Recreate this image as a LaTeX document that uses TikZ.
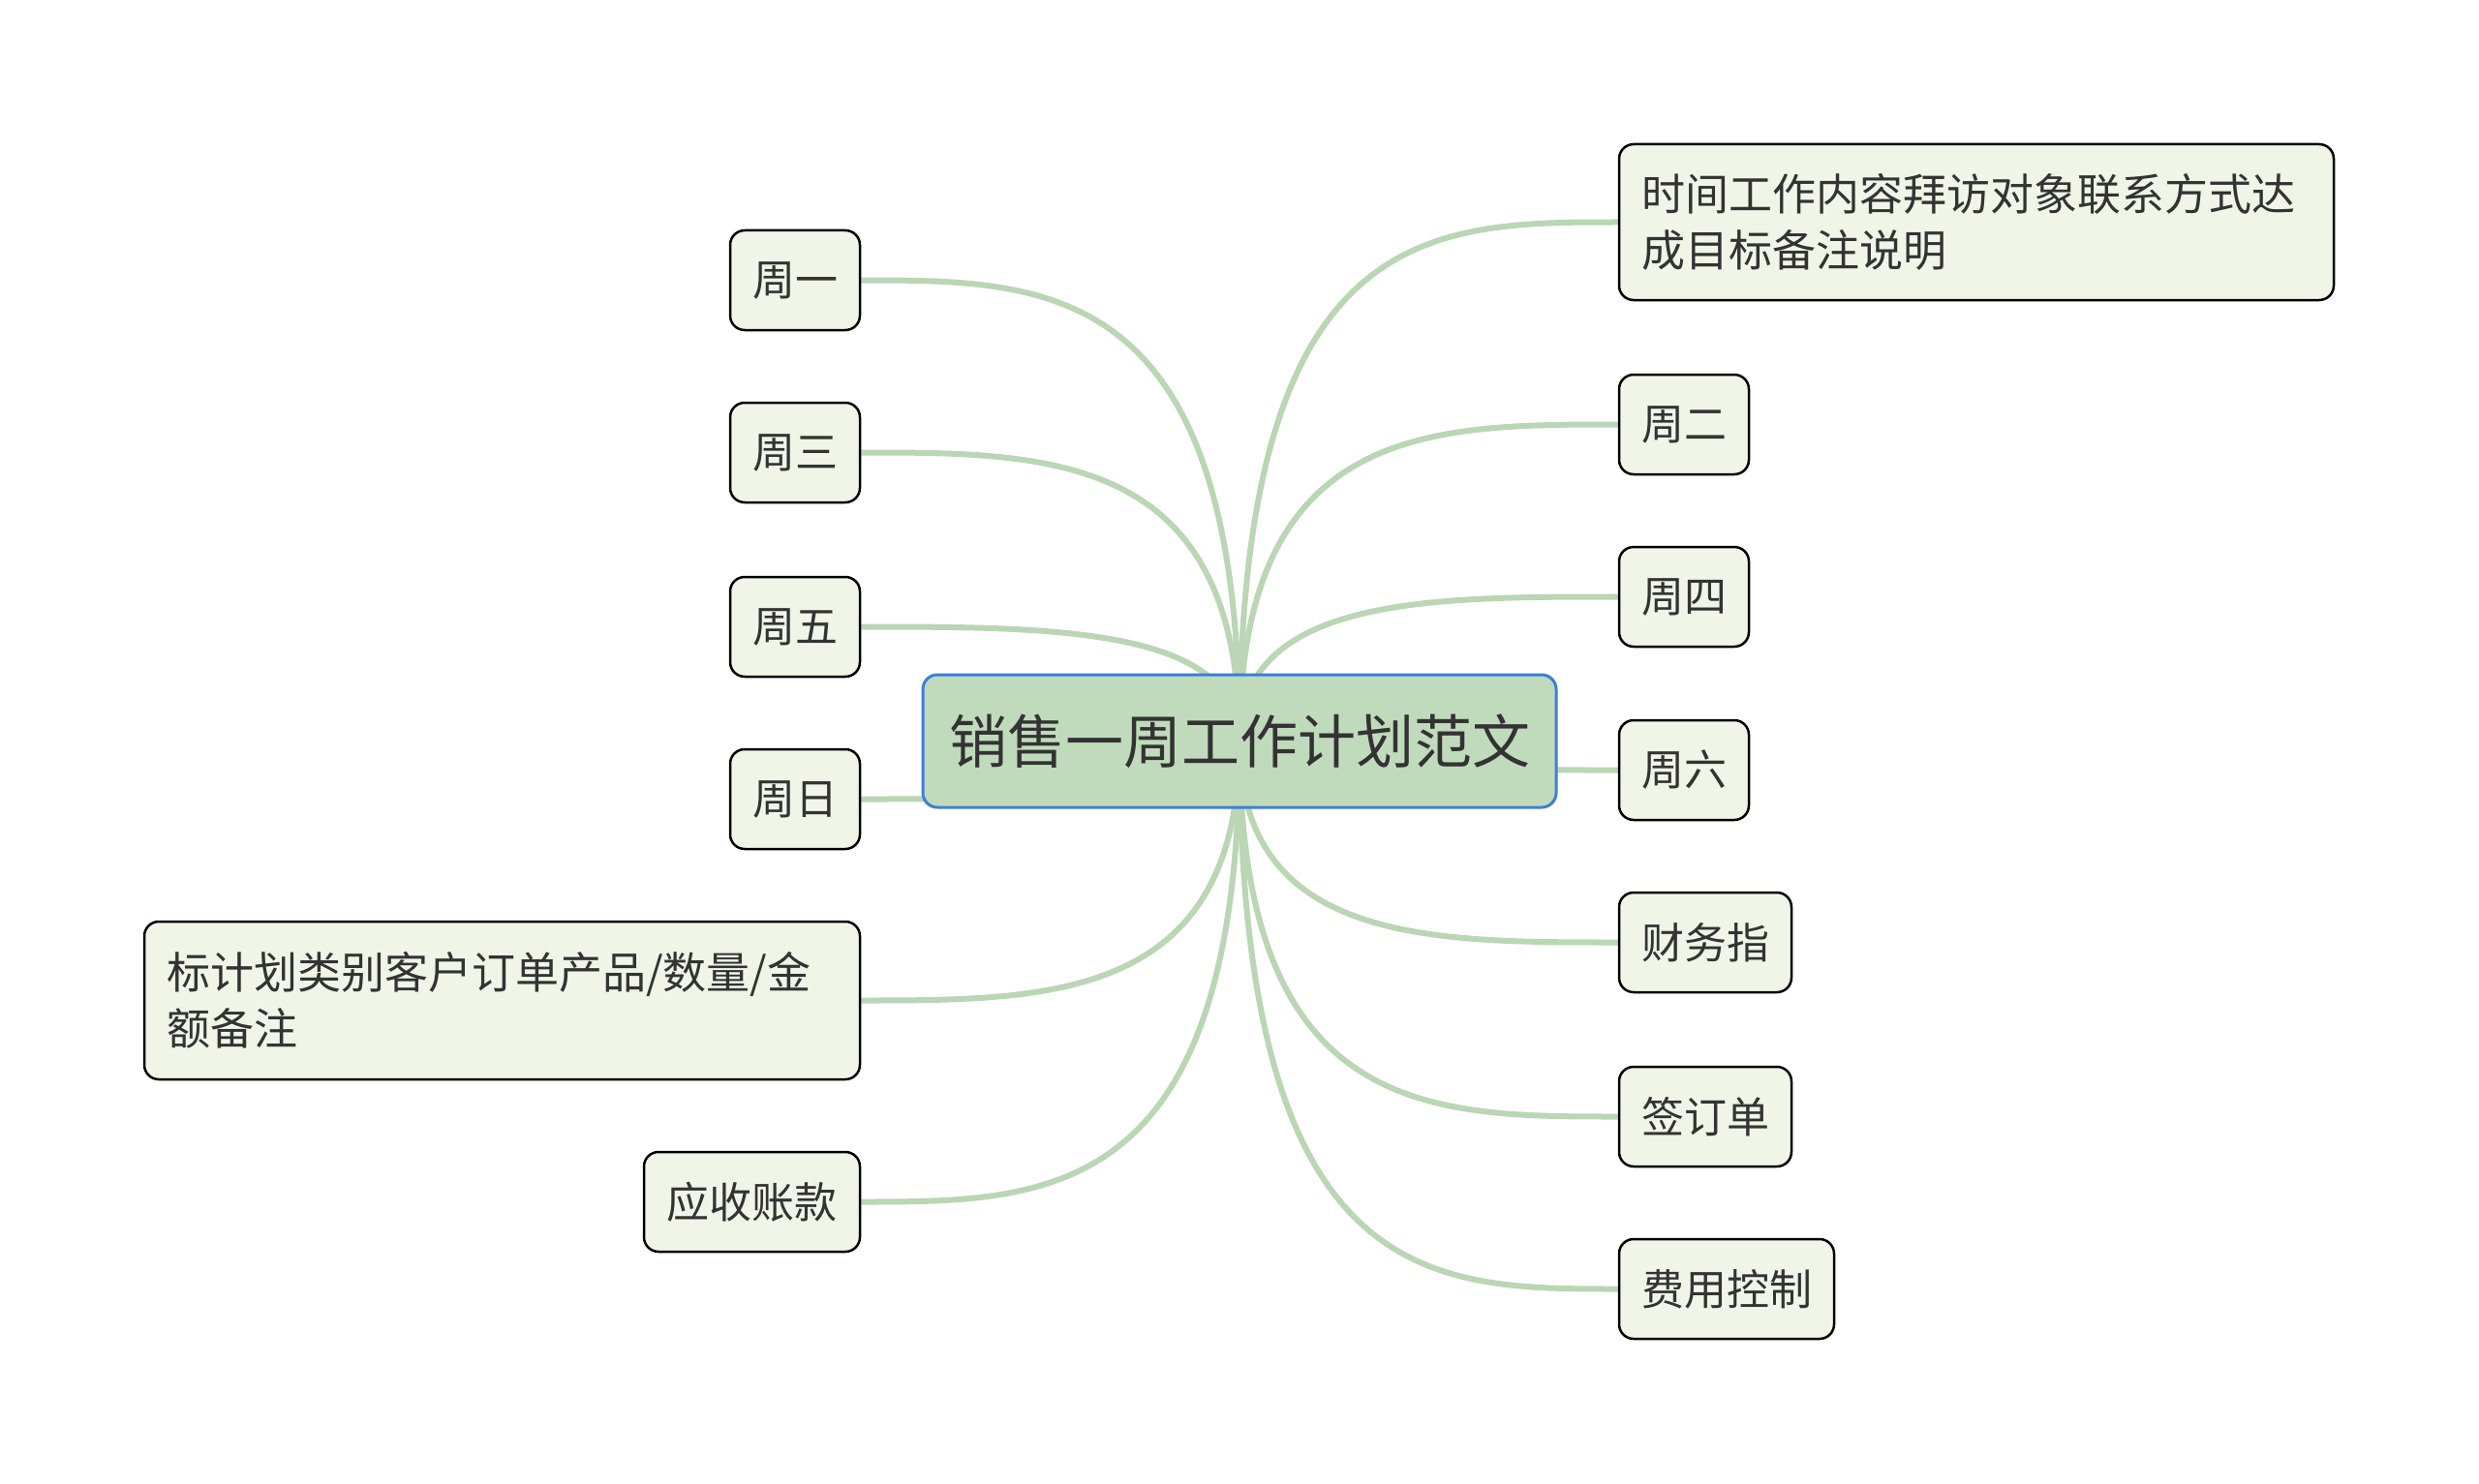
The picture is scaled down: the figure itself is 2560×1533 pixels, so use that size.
\documentclass[tikz,border=0pt]{standalone}
\usepackage{fontspec}
\setmainfont{Noto Sans CJK SC}
\usetikzlibrary{calc}
\definecolor{leaffill}{HTML}{F0F5E7}
\definecolor{rootfill}{HTML}{C0DBBC}
\definecolor{rootline}{HTML}{3D7FD6}
\definecolor{linec}{HTML}{BAD6B4}
\definecolor{textc}{HTML}{333333}
\pgfdeclarelayer{bg}
\pgfsetlayers{bg,main}
\begin{document}
\begin{tikzpicture}[x=1pt,y=-1pt,
  leaf/.style={draw=black, line width=2.5pt, fill=leaffill, rounded corners=15pt, inner sep=0pt, text=textc, font=\fontsize{44}{52}\selectfont},
  bigleaf/.style={leaf, align=left, font=\fontsize{45}{58}\selectfont},
  rootnode/.style={draw=rootline, line width=3pt, fill=rootfill, rounded corners=15pt, inner sep=0pt, text=textc, font=\fontsize{60}{70}\selectfont},
  conn/.style={draw=linec, line width=6pt}]
\begin{pgfonlayer}{bg}
\fill[white] (0,0) rectangle (2560,1533);
\end{pgfonlayer}
\useasboundingbox (0,0) rectangle (2560,1533);

\node[rootnode, minimum width=654, minimum height=137] (root) at (1280,765.5) {销售一周工作计划范文};

% left
\node[leaf, minimum width=134, minimum height=103] (l1) at (821,289.5) {周一};
\node[leaf, minimum width=134, minimum height=103] (l2) at (821,467.5) {周三};
\node[leaf, minimum width=134, minimum height=103] (l3) at (821,647.5) {周五};
\node[leaf, minimum width=134, minimum height=103] (l4) at (821,825.5) {周日};
\node[bigleaf, minimum width=739, minimum height=163, text width=693] (l5) at (518.5,1033.5) {标计划类别客户订单产品/数量/金\\额备注};
\node[leaf, minimum width=223, minimum height=103] (l6) at (776.5,1241.5) {应收账款};

% right
\node[bigleaf, minimum width=738, minimum height=161, text width=692] (r1) at (2041,229.5) {时间工作内容拜访对象联系方式达\\成目标备注说明};
\node[leaf, minimum width=134, minimum height=103] (r2) at (1739,438.5) {周二};
\node[leaf, minimum width=134, minimum height=103] (r3) at (1739,616.5) {周四};
\node[leaf, minimum width=134, minimum height=103] (r4) at (1739,795.5) {周六};
\node[leaf, minimum width=178, minimum height=103] (r5) at (1761,973.5) {财务指};
\node[leaf, minimum width=178, minimum height=103] (r6) at (1761,1153.5) {签订单};
\node[leaf, minimum width=222, minimum height=103] (r7) at (1783,1331.5) {费用控制};

\begin{pgfonlayer}{bg}
\foreach \n in {l1,l2,l3,l4,l5,l6}{
  \draw[conn] (root.center) .. controls (root.center |- \n.east) and ($(root.center |- \n.east)!0.5!(\n.east)$) .. (\n.east);
}
\foreach \n in {r1,r2,r3,r4,r5,r6,r7}{
  \draw[conn] (root.center) .. controls (root.center |- \n.west) and ($(root.center |- \n.west)!0.5!(\n.west)$) .. (\n.west);
}
\end{pgfonlayer}
\end{tikzpicture}
\end{document}
